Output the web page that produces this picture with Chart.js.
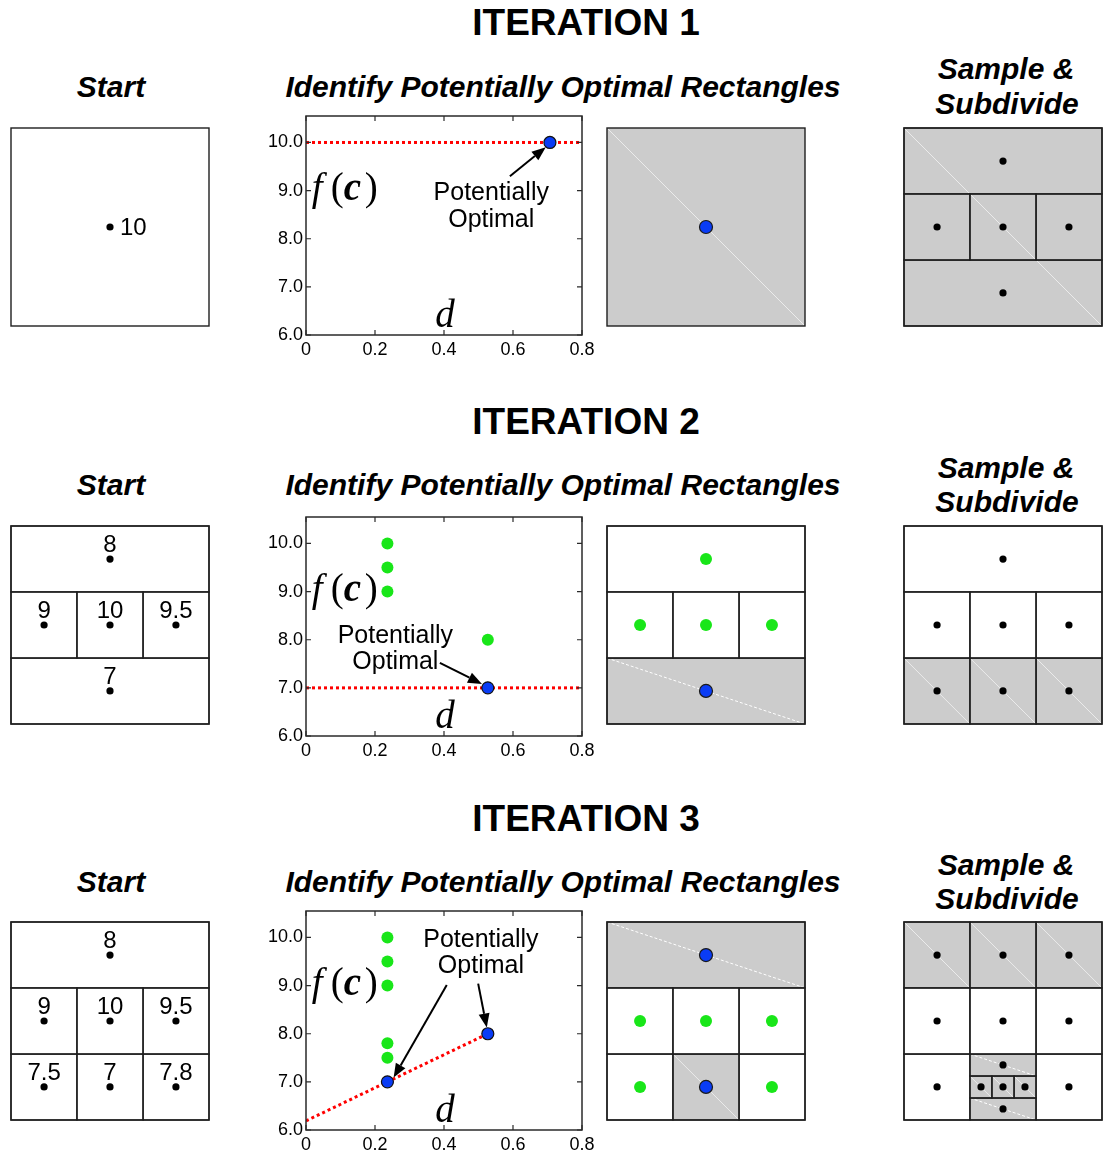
<!DOCTYPE html>
<html>
<head>
<meta charset="utf-8">
<title>DIRECT iterations</title>
<script src="https://cdn.jsdelivr.net/npm/chart.js@4.4.1/dist/chart.umd.min.js"></script>
<style>
html,body{margin:0;padding:0;background:#fff;}
#page{position:relative;width:1104px;height:1154px;overflow:hidden;font-family:"Liberation Sans",Arial,Helvetica,sans-serif;color:#000;}
.lbl{position:absolute;white-space:nowrap;transform:translate(-50%,-50%);line-height:1;}
.head{font-weight:bold;font-size:37px;}
.sub{font-weight:bold;font-style:italic;font-size:30px;}
canvas{position:absolute;}
</style>
</head>
<body>
<div id="page"></div>
<script>
// ================= DATA =================
const xTicks = [0, 0.2, 0.4, 0.6, 0.8];
const xTickLabels = ['0', '0.2', '0.4', '0.6', '0.8'];
const yTicks = [6, 7, 8, 9, 10];
const yTickLabels = ['6.0', '7.0', '8.0', '9.0', '10.0'];

// scatter plots: d (x) vs f(c) (y)
const it1Green = [];
const it1Blue = [{x:0.707, y:10}];
const it1Line = [{x:0, y:10}, {x:0.8, y:10}];

const it2Green = [{x:0.236, y:10}, {x:0.236, y:9.5}, {x:0.236, y:9}, {x:0.527, y:8}];
const it2Blue = [{x:0.527, y:7}];
const it2Line = [{x:0, y:7}, {x:0.8, y:7}];

const it3Green = [{x:0.236, y:10}, {x:0.236, y:9.5}, {x:0.236, y:9}, {x:0.236, y:7.8}, {x:0.236, y:7.5}];
const it3Blue = [{x:0.236, y:7}, {x:0.527, y:8}];
const it3Line = [{x:0, y:6.19}, {x:0.527, y:8}];

// unit-square diagrams: rectangles [x0, y0, x1, y1, shaded]
const it1StartRects = [[0,0,1,1,0]];
const it1StartPts = [{x:0.5, y:0.5}];
const it1StartVals = ['10'];

const it1PoRects = [[0,0,1,1,1]];
const it1PoGreen = [];
const it1PoBlue = [{x:0.5, y:0.5}];

const it1SubRects = [[0,0,1,1,1],[0,0.667,1,1,0],[0,0.333,0.333,0.667,0],[0.333,0.333,0.667,0.667,0],[0.667,0.333,1,0.667,0],[0,0,1,0.333,0]];
const it1SubPts = [{x:0.5,y:0.833},{x:0.167,y:0.5},{x:0.5,y:0.5},{x:0.833,y:0.5},{x:0.5,y:0.167}];

const it2StartRects = [[0,0,1,1,0],[0,0.667,1,1,0],[0,0.333,0.333,0.667,0],[0.333,0.333,0.667,0.667,0],[0.667,0.333,1,0.667,0],[0,0,1,0.333,0]];
const it2StartPts = [{x:0.5,y:0.833},{x:0.167,y:0.5},{x:0.5,y:0.5},{x:0.833,y:0.5},{x:0.5,y:0.167}];
const it2StartVals = ['8','9','10','9.5','7'];

const it2PoRects = [[0,0,1,1,0],[0,0.667,1,1,0],[0,0.333,0.333,0.667,0],[0.333,0.333,0.667,0.667,0],[0.667,0.333,1,0.667,0],[0,0,1,0.333,1]];
const it2PoGreen = [{x:0.5,y:0.833},{x:0.167,y:0.5},{x:0.5,y:0.5},{x:0.833,y:0.5}];
const it2PoBlue = [{x:0.5,y:0.167}];

const it2SubRects = [[0,0,1,1,0],[0,0.667,1,1,0],[0,0.333,0.333,0.667,0],[0.333,0.333,0.667,0.667,0],[0.667,0.333,1,0.667,0],[0,0,0.333,0.333,1],[0.333,0,0.667,0.333,1],[0.667,0,1,0.333,1]];
const it2SubPts = [{x:0.5,y:0.833},{x:0.167,y:0.5},{x:0.5,y:0.5},{x:0.833,y:0.5},{x:0.167,y:0.167},{x:0.5,y:0.167},{x:0.833,y:0.167}];

const it3StartRects = [[0,0,1,1,0],[0,0.667,1,1,0],[0,0.333,0.333,0.667,0],[0.333,0.333,0.667,0.667,0],[0.667,0.333,1,0.667,0],[0,0,0.333,0.333,0],[0.333,0,0.667,0.333,0],[0.667,0,1,0.333,0]];
const it3StartPts = [{x:0.5,y:0.833},{x:0.167,y:0.5},{x:0.5,y:0.5},{x:0.833,y:0.5},{x:0.167,y:0.167},{x:0.5,y:0.167},{x:0.833,y:0.167}];
const it3StartVals = ['8','9','10','9.5','7.5','7','7.8'];

const it3PoRects = [[0,0,1,1,0],[0,0.667,1,1,1],[0,0.333,0.333,0.667,0],[0.333,0.333,0.667,0.667,0],[0.667,0.333,1,0.667,0],[0,0,0.333,0.333,0],[0.333,0,0.667,0.333,1],[0.667,0,1,0.333,0]];
const it3PoGreen = [{x:0.167,y:0.5},{x:0.5,y:0.5},{x:0.833,y:0.5},{x:0.167,y:0.167},{x:0.833,y:0.167}];
const it3PoBlue = [{x:0.5,y:0.833},{x:0.5,y:0.167}];

const it3SubRects = [[0,0,1,1,0],
  [0,0.667,0.333,1,1],[0.333,0.667,0.667,1,1],[0.667,0.667,1,1,1],
  [0,0.333,0.333,0.667,0],[0.333,0.333,0.667,0.667,0],[0.667,0.333,1,0.667,0],
  [0,0,0.333,0.333,0],
  [0.333,0.222,0.667,0.333,1],[0.333,0.111,0.444,0.222,1],[0.444,0.111,0.556,0.222,1],[0.556,0.111,0.667,0.222,1],[0.333,0,0.667,0.111,1],
  [0.667,0,1,0.333,0]];
const it3SubPts = [{x:0.167,y:0.833},{x:0.5,y:0.833},{x:0.833,y:0.833},
  {x:0.167,y:0.5},{x:0.5,y:0.5},{x:0.833,y:0.5},
  {x:0.167,y:0.167},{x:0.5,y:0.278},{x:0.389,y:0.167},{x:0.5,y:0.167},{x:0.611,y:0.167},{x:0.5,y:0.056},{x:0.833,y:0.167}];

// annotations (in data coordinates of each scatter plot)
const it1Notes = {texts:[['Potentially',0.537,8.80],['Optimal',0.537,8.24]], arrows:[[0.591,9.30,0.695,9.90]]};
const it2Notes = {texts:[['Potentially',0.259,7.93],['Optimal',0.259,7.40]], arrows:[[0.388,7.52,0.510,7.08]]};
const it3Notes = {texts:[['Potentially',0.507,9.80],['Optimal',0.507,9.27]], arrows:[[0.408,9.01,0.254,7.09],[0.499,9.04,0.524,8.13]]};

// ================= STYLE / LAYOUT =================
const GREEN = '#19e619';
const BLUE = '#0a3cf5';
const SANS = '"Liberation Sans", Arial, Helvetica, sans-serif';
const SERIF = '"Liberation Serif", "DejaVu Serif", serif';
const BOX = 198;
const rowBoxTop = [128, 526, 922];
const rowPlotBottom = [335, 736, 1130];
const rowTitleY = [22, 421, 818];
const rowSubY = [87, 485, 882];
const rowSampleY = [69, 468, 865];
const rowSubdivY = [104, 502, 899];

const page = document.getElementById('page');
function addText(txt, cls, x, y) {
  const d = document.createElement('div');
  d.className = 'lbl ' + cls;
  d.textContent = txt;
  d.style.left = x + 'px';
  d.style.top = y + 'px';
  page.appendChild(d);
}
function addCanvas(left, top, w, h) {
  const c = document.createElement('canvas');
  c.width = w; c.height = h;
  c.style.left = left + 'px'; c.style.top = top + 'px';
  c.style.width = w + 'px'; c.style.height = h + 'px';
  page.appendChild(c);
  return c;
}

function baseOpts() {
  return {
    responsive: false, animation: false, devicePixelRatio: 1, events: [],
    plugins: {legend: {display: false}, tooltip: {enabled: false}}
  };
}

// ---------- unit-square diagram ----------
function boxChart(left, top, rects, black, green, blue, vals, valMode) {
  const cv = addCanvas(left - 2, top - 2, BOX + 4, BOX + 4);
  const cells = {
    id: 'cells',
    beforeDatasetsDraw(chart) {
      const ctx = chart.ctx, xs = chart.scales.x, ys = chart.scales.y;
      ctx.save();
      rects.forEach(r => {
        if (!r[4]) return;
        const X0 = xs.getPixelForValue(r[0]), X1 = xs.getPixelForValue(r[2]);
        const Y0 = ys.getPixelForValue(r[3]), Y1 = ys.getPixelForValue(r[1]);
        ctx.fillStyle = '#cccccc';
        ctx.fillRect(X0, Y0, X1 - X0, Y1 - Y0);
        const sq = Math.abs((X1 - X0) - (Y1 - Y0)) < 3;
        ctx.strokeStyle = sq ? '#ebebeb' : '#ffffff';
        ctx.lineWidth = 1;
        ctx.setLineDash(sq ? [] : [3, 2]);
        ctx.beginPath(); ctx.moveTo(X0, Y0); ctx.lineTo(X1, Y1); ctx.stroke();
        ctx.setLineDash([]);
      });
      ctx.strokeStyle = '#1e1e1e';
      ctx.lineWidth = 1.4;
      rects.forEach(r => {
        const X0 = xs.getPixelForValue(r[0]), X1 = xs.getPixelForValue(r[2]);
        const Y0 = ys.getPixelForValue(r[3]), Y1 = ys.getPixelForValue(r[1]);
        ctx.strokeRect(X0, Y0, X1 - X0, Y1 - Y0);
      });
      ctx.restore();
    }
  };
  const values = {
    id: 'values',
    afterDatasetsDraw(chart) {
      if (!vals) return;
      const ctx = chart.ctx, xs = chart.scales.x, ys = chart.scales.y;
      ctx.save();
      ctx.fillStyle = '#000';
      ctx.font = '24px ' + SANS;
      ctx.textBaseline = 'alphabetic';
      black.forEach((p, i) => {
        const px = xs.getPixelForValue(p.x), py = ys.getPixelForValue(p.y);
        if (valMode === 'right') { ctx.textAlign = 'left'; ctx.fillText(vals[i], px + 10, py + 8); }
        else { ctx.textAlign = 'center'; ctx.fillText(vals[i], px, py - 7); }
      });
      ctx.restore();
    }
  };
  const opts = baseOpts();
  opts.layout = {padding: 2, autoPadding: false};
  opts.scales = {
    x: {type: 'linear', min: 0, max: 1, display: false},
    y: {type: 'linear', min: 0, max: 1, display: false}
  };
  new Chart(cv, {
    type: 'scatter',
    data: {datasets: [
      {data: blue, pointRadius: 6.5, backgroundColor: BLUE, borderColor: '#1a1a1a', borderWidth: 1.2},
      {data: green, pointRadius: 6, backgroundColor: GREEN, borderWidth: 0},
      {data: black, pointRadius: 3.6, backgroundColor: '#000', borderWidth: 0}
    ]},
    options: opts,
    plugins: [cells, values]
  });
}

// ---------- d / f(c) scatter ----------
function drawArrow(ctx, x0, y0, x1, y1) {
  const dx = x1 - x0, dy = y1 - y0, L = Math.hypot(dx, dy);
  const ux = dx / L, uy = dy / L, hl = 14, hw = 5.5;
  const bx = x1 - ux * hl, by = y1 - uy * hl;
  ctx.beginPath(); ctx.moveTo(x0, y0); ctx.lineTo(bx, by); ctx.stroke();
  ctx.beginPath();
  ctx.moveTo(x1, y1);
  ctx.lineTo(bx - uy * hw, by + ux * hw);
  ctx.lineTo(bx + uy * hw, by - ux * hw);
  ctx.closePath(); ctx.fill();
}

function scatterChart(plotBottom, green, blue, line, notes) {
  // plot area: x 306..582, y (plotBottom-219)..plotBottom
  const cv = addCanvas(256, plotBottom - 237, 346, 270);
  const frame = {
    id: 'frame',
    afterDatasetsDraw(chart) {
      const ctx = chart.ctx, a = chart.chartArea, xs = chart.scales.x, ys = chart.scales.y;
      ctx.save();
      ctx.strokeStyle = '#2a2a2a';
      ctx.lineWidth = 1.5;
      ctx.strokeRect(a.left, a.top, a.right - a.left, a.bottom - a.top);
      ctx.lineWidth = 1.2;
      ctx.beginPath();
      xTicks.forEach(v => {
        const px = xs.getPixelForValue(v);
        ctx.moveTo(px, a.bottom); ctx.lineTo(px, a.bottom - 5);
        ctx.moveTo(px, a.top); ctx.lineTo(px, a.top + 5);
      });
      yTicks.forEach(v => {
        const py = ys.getPixelForValue(v);
        ctx.moveTo(a.left, py); ctx.lineTo(a.left + 5, py);
        ctx.moveTo(a.right, py); ctx.lineTo(a.right - 5, py);
      });
      ctx.stroke();
      ctx.restore();
    }
  };
  const annot = {
    id: 'annot',
    afterDraw(chart) {
      const ctx = chart.ctx, xs = chart.scales.x, ys = chart.scales.y;
      ctx.save();
      ctx.fillStyle = '#000';
      ctx.strokeStyle = '#000';
      ctx.lineWidth = 2;
      ctx.font = '25px ' + SANS;
      ctx.textAlign = 'center';
      ctx.textBaseline = 'alphabetic';
      notes.texts.forEach(t => ctx.fillText(t[0], xs.getPixelForValue(t[1]), ys.getPixelForValue(t[2])));
      notes.arrows.forEach(r => drawArrow(ctx, xs.getPixelForValue(r[0]), ys.getPixelForValue(r[1]), xs.getPixelForValue(r[2]), ys.getPixelForValue(r[3])));
      // axis symbols
      ctx.textAlign = 'left';
      const fx = xs.getPixelForValue(0.017), fy = ys.getPixelForValue(8.80);
      ctx.font = 'italic 39px ' + SERIF; ctx.fillText('f', fx, fy);
      ctx.font = '39px ' + SERIF; ctx.fillText('(', fx + 19, fy);
      ctx.font = 'italic bold 39px ' + SERIF; ctx.fillText('c', fx + 32, fy);
      ctx.font = '39px ' + SERIF; ctx.fillText(')', fx + 53, fy);
      ctx.textAlign = 'center';
      ctx.font = 'italic 39px ' + SERIF;
      ctx.fillText('d', xs.getPixelForValue(0.403), ys.getPixelForValue(6.17));
      ctx.restore();
    }
  };
  const tickFont = {size: 18, family: SANS};
  const opts = baseOpts();
  opts.layout = {padding: {top: 18, right: 20, left: 0, bottom: 0}, autoPadding: false};
  opts.scales = {
    x: {
      type: 'linear', min: 0, max: 0.8,
      grid: {display: false, drawTicks: false}, border: {display: false},
      afterFit: s => { s.height = 33; },
      afterBuildTicks: s => { s.ticks = xTicks.map(v => ({value: v})); },
      ticks: {padding: 4, color: '#000', font: tickFont, maxRotation: 0, autoSkip: false,
              callback: (v, i) => xTickLabels[i]}
    },
    y: {
      type: 'linear', min: 6, max: 10.55,
      grid: {display: false, drawTicks: false}, border: {display: false},
      afterFit: s => { s.width = 50; },
      afterBuildTicks: s => { s.ticks = yTicks.map(v => ({value: v})); },
      ticks: {padding: 3, color: '#000', font: tickFont, autoSkip: false,
              callback: (v, i) => yTickLabels[i]}
    }
  };
  new Chart(cv, {
    type: 'scatter',
    data: {datasets: [
      {data: blue, pointRadius: 6, backgroundColor: BLUE, borderColor: '#111', borderWidth: 1.2},
      {data: green, pointRadius: 6, backgroundColor: GREEN, borderWidth: 0},
      {type: 'line', data: line, borderColor: '#ff0000', borderWidth: 3, borderDash: [3, 3],
       pointRadius: 0, fill: false, tension: 0}
    ]},
    options: opts,
    plugins: [frame, annot]
  });
}

// ================= BUILD =================
const rows = [
  {start:[it1StartRects, it1StartPts, it1StartVals, 'right'], po:[it1PoRects, it1PoGreen, it1PoBlue], sub:[it1SubRects, it1SubPts], sc:[it1Green, it1Blue, it1Line, it1Notes]},
  {start:[it2StartRects, it2StartPts, it2StartVals, 'above'], po:[it2PoRects, it2PoGreen, it2PoBlue], sub:[it2SubRects, it2SubPts], sc:[it2Green, it2Blue, it2Line, it2Notes]},
  {start:[it3StartRects, it3StartPts, it3StartVals, 'above'], po:[it3PoRects, it3PoGreen, it3PoBlue], sub:[it3SubRects, it3SubPts], sc:[it3Green, it3Blue, it3Line, it3Notes]}
];

rows.forEach((r, i) => {
  addText('ITERATION ' + (i + 1), 'head', 586, rowTitleY[i]);
  addText('Start', 'sub', 111, rowSubY[i]);
  addText('Identify Potentially Optimal Rectangles', 'sub', 563, rowSubY[i]);
  addText('Sample &', 'sub', 1006, rowSampleY[i]);
  addText('Subdivide', 'sub', 1007, rowSubdivY[i]);
  const top = rowBoxTop[i];
  boxChart(11, top, r.start[0], r.start[1], [], [], r.start[2], r.start[3]);
  boxChart(607, top, r.po[0], [], r.po[1], r.po[2], null, null);
  boxChart(904, top, r.sub[0], r.sub[1], [], [], null, null);
  scatterChart(rowPlotBottom[i], r.sc[0], r.sc[1], r.sc[2], r.sc[3]);
});
</script>
</body>
</html>
